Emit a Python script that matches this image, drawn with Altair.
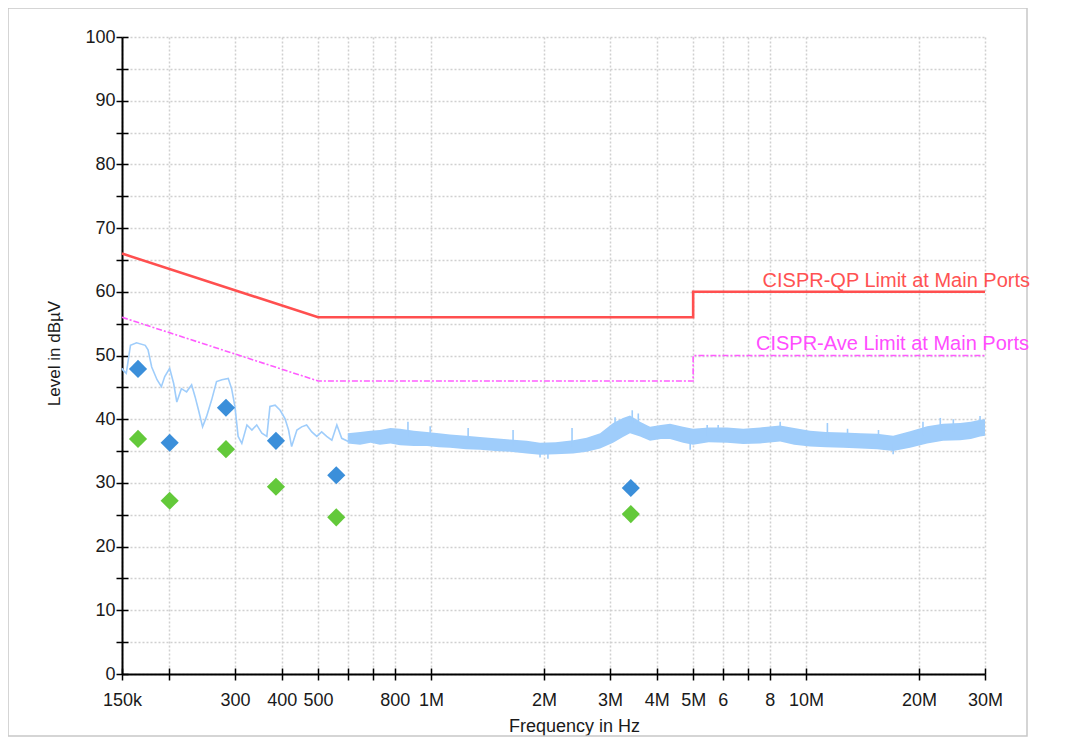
import altair as alt
import pandas as pd

# ---------------- data ----------------
# measured trace, low-frequency part (MHz, dBuV)
trace_freq_mhz = [0.150, 0.151, 0.154, 0.158, 0.164, 0.173, 0.176, 0.180, 0.186, 0.191,
                  0.195, 0.201, 0.206, 0.210, 0.216, 0.223, 0.230, 0.235, 0.240, 0.246,
                  0.252, 0.260, 0.268, 0.277, 0.288, 0.294, 0.300, 0.306, 0.313, 0.323,
                  0.333, 0.343, 0.354, 0.365, 0.372, 0.384, 0.396, 0.408, 0.417, 0.425,
                  0.439, 0.452, 0.466, 0.481, 0.496, 0.511, 0.527, 0.544, 0.561, 0.578,
                  0.602, 0.621]
trace_level = [48.0, 47.7, 47.2, 51.6, 52.0, 51.6, 50.9, 48.2, 46.2, 45.1,
               46.7, 48.0, 45.6, 42.7, 44.8, 44.3, 45.4, 43.5, 41.4, 38.8,
               40.4, 43.0, 45.9, 46.2, 46.4, 44.8, 42.0, 37.3, 36.2, 39.1,
               38.3, 39.1, 37.8, 37.3, 42.0, 42.2, 41.4, 40.1, 38.3, 35.7,
               38.3, 38.8, 39.1, 38.0, 37.3, 38.0, 37.3, 36.7, 39.1, 37.0,
               36.5, 37.5]

# measured trace, dense upper part drawn as its envelope (MHz, low, high)
band_freq_mhz = [0.60, 0.647, 0.690, 0.731, 0.780, 0.827, 0.900, 0.976, 1.05, 1.124,
                 1.24, 1.351, 1.48, 1.625, 1.80, 1.953, 2.15, 2.393, 2.60, 2.824,
                 3.059, 3.25, 3.393, 3.609, 3.838, 4.10, 4.339, 4.70, 4.998, 5.50,
                 6.159, 6.80, 7.541, 8.528, 9.30, 10.25, 11.30, 12.56, 14.0, 15.47,
                 17.07, 18.94, 21.03, 23.19, 25.75, 27.5, 29.12, 30.0]
band_low = [36.2, 36.0, 36.3, 36.0, 36.2, 35.9, 35.8, 35.8, 35.6, 35.5,
            35.3, 35.2, 35.0, 34.9, 34.6, 34.4, 34.5, 34.6, 34.9, 35.4,
            36.3, 37.2, 37.8, 37.3, 36.6, 36.9, 36.9, 36.3, 36.0, 36.4,
            36.3, 36.1, 36.2, 36.5, 36.0, 35.7, 35.6, 35.5, 35.4, 35.3,
            35.0, 35.5, 36.2, 36.6, 36.7, 36.9, 37.3, 37.4]
band_high = [37.8, 38.0, 38.2, 38.3, 38.6, 38.5, 38.2, 38.0, 37.8, 37.6,
             37.4, 37.2, 37.0, 36.8, 36.6, 36.3, 36.4, 36.7, 37.1, 37.8,
             39.4, 40.2, 40.6, 39.6, 38.8, 39.1, 39.3, 38.8, 38.5, 38.7,
             38.7, 38.5, 38.7, 39.0, 38.6, 38.2, 38.0, 37.9, 37.8, 37.7,
             37.4, 38.1, 38.9, 39.3, 39.4, 39.6, 39.9, 40.0]

# isolated spikes of the dense trace (MHz, from, to)
spike_freq_mhz = [0.868, 0.995, 1.256, 1.655, 1.953, 2.05, 2.377, 3.096, 3.44, 3.57,
                  4.91, 5.45, 5.83, 8.53, 11.4, 12.9, 15.6, 17.07, 20.5, 22.8,
                  24.7, 29.1]
spike_from = [37.3, 37.0, 36.5, 35.8, 35.2, 35.2, 35.6, 38.0, 39.3, 38.5,
              37.0, 37.3, 37.4, 37.9, 36.8, 36.7, 36.5, 36.2, 37.5, 38.0,
              38.1, 38.7]
spike_to = [39.6, 38.9, 38.6, 38.3, 34.0, 33.8, 38.6, 40.3, 41.4, 40.9,
            35.2, 39.1, 39.1, 39.6, 39.4, 38.5, 38.3, 34.5, 39.6, 40.2,
            40.0, 40.5]

# limit lines
limit_freq_mhz = [0.15, 0.5, 5.0, 5.0, 30.0]
qp_limit = [66, 56, 56, 60, 60]
ave_limit = [56, 46, 46, 50, 50]

# final measurement points
peak_freq_mhz = [0.1655, 0.201, 0.284, 0.386, 0.559, 3.41]
peak_qp = [47.9, 36.3, 41.8, 36.6, 31.2, 29.2]
peak_ave = [36.9, 27.2, 35.3, 29.4, 24.6, 25.1]

# limit labels
label_text = ["CISPR-QP Limit at Main Ports", "CISPR-Ave Limit at Main Ports"]
label_freq_mhz = [17.4, 17.0]
label_level = [61.7, 51.8]

# axis ticks
x_tick_hz = [150000, 200000, 300000, 400000, 500000, 600000, 700000, 800000,
             1000000, 2000000, 3000000, 4000000, 5000000, 6000000, 7000000,
             8000000, 10000000, 20000000, 30000000]
x_tick_text = ["150k", "", "300", "400", "500", "", "", "800", "1M", "2M", "3M",
               "4M", "5M", "6", "", "8", "10M", "20M", "30M"]
y_ticks = [0, 5, 10, 15, 20, 25, 30, 35, 40, 45, 50, 55, 60, 65, 70, 75, 80, 85, 90, 95, 100]

# ---------------- tables ----------------
trace_df = pd.DataFrame({"f": [v * 1e6 for v in trace_freq_mhz], "level": trace_level})
band_df = pd.DataFrame({"f": [v * 1e6 for v in band_freq_mhz], "lo": band_low, "hi": band_high})
spike_df = pd.DataFrame({"f": [v * 1e6 for v in spike_freq_mhz], "a": spike_from, "b": spike_to})
qp_df = pd.DataFrame({"f": [v * 1e6 for v in limit_freq_mhz], "level": qp_limit,
                      "i": list(range(len(qp_limit)))})
ave_df = pd.DataFrame({"f": [v * 1e6 for v in limit_freq_mhz], "level": ave_limit,
                       "i": list(range(len(ave_limit)))})
peak_df = pd.DataFrame({"f": [v * 1e6 for v in peak_freq_mhz], "qp": peak_qp, "ave": peak_ave})
label_df = pd.DataFrame({"f": [v * 1e6 for v in label_freq_mhz], "level": label_level,
                         "text": label_text})
frame_df = pd.DataFrame({"a": [0]})

FONT = "Liberation Sans"
W, H = 863, 637
TRACE = "#9fcdfb"

xscale = alt.Scale(type="log", domain=[150000, 30000000], nice=False)
yscale = alt.Scale(domain=[0, 100], nice=False, zero=True)

vals_js = "[" + ",".join(str(v) for v in x_tick_hz) + "]"
txt_js = "[" + ",".join("'" + t + "'" for t in x_tick_text) + "]"
x_label_expr = f"{txt_js}[indexof({vals_js}, datum.value)]"

x_main_axis = alt.Axis(
    values=x_tick_hz, labelExpr=x_label_expr, title="Frequency in Hz",
    grid=True, gridColor="#d0d0d0", gridDash=[2, 2], gridWidth=1.5,
    domainColor="#000000", domainWidth=2, tickColor="#000000", tickWidth=1.5, tickSize=6,
    labelFont=FONT, labelFontSize=18, labelColor="#1a1a1a", labelPadding=11,
    labelFlush=False, labelOverlap=False, labelAngle=0,
    titleFont=FONT, titleFontSize=18, titleFontWeight="normal", titleColor="#1a1a1a",
    titleX=452, titleY=57, titleBaseline="alphabetic", titleAnchor="middle",
)
y_main_axis = alt.Axis(
    values=y_ticks, labelExpr="datum.value % 10 == 0 ? datum.value : ''",
    title="Level in dBµV",
    grid=True, gridColor="#d0d0d0", gridDash=[2, 2], gridWidth=1.5,
    domainColor="#000000", domainWidth=2, tickColor="#000000", tickWidth=1.5, tickSize=6,
    labelFont=FONT, labelFontSize=18, labelColor="#1a1a1a", labelPadding=1,
    titleFont=FONT, titleFontSize=17, titleFontWeight="normal", titleColor="#1a1a1a",
    titleX=-59, titleY=316, titleAngle=270, titleBaseline="bottom", titleAlign="center",
)
x_inner_axis = alt.Axis(orient="bottom", values=x_tick_hz, offset=-6, tickSize=6,
                        tickColor="#000000", tickWidth=1.5, domain=False, labels=False,
                        grid=False, title="")
y_inner_axis = alt.Axis(orient="left", values=y_ticks, offset=-6, tickSize=6,
                        tickColor="#000000", tickWidth=1.5, domain=False, labels=False,
                        grid=False, title="")

frame = alt.Chart(frame_df).mark_rect(fillOpacity=0, stroke="#c8c8c8", strokeWidth=1.5).encode(
    x=alt.value(-114), x2=alt.value(905), y=alt.value(-29), y2=alt.value(699)
)

band = alt.Chart(band_df).mark_area(color=TRACE, opacity=1).encode(
    x=alt.X("f:Q", scale=xscale, axis=x_main_axis),
    y=alt.Y("lo:Q", scale=yscale, axis=y_main_axis),
    y2="hi:Q",
)

spikes = alt.Chart(spike_df).mark_rule(color=TRACE, strokeWidth=1.6).encode(
    x=alt.X("f:Q", scale=xscale, axis=None),
    y=alt.Y("a:Q", scale=yscale, axis=None),
    y2="b:Q",
)

trace = alt.Chart(trace_df).mark_line(color=TRACE, strokeWidth=1.6).encode(
    x=alt.X("f:Q", scale=xscale, axis=None),
    y=alt.Y("level:Q", scale=yscale, axis=None),
)

qp_line = alt.Chart(qp_df).mark_line(color="#ff4f4f", strokeWidth=2.6).encode(
    x=alt.X("f:Q", scale=xscale, axis=x_inner_axis),
    y=alt.Y("level:Q", scale=yscale, axis=y_inner_axis),
    order=alt.Order("i:Q"),
)

ave_line = alt.Chart(ave_df).mark_line(color="#ff5cff", strokeWidth=1.6,
                                       strokeDash=[6, 2, 2, 2]).encode(
    x=alt.X("f:Q", scale=xscale, axis=None),
    y=alt.Y("level:Q", scale=yscale, axis=None),
    order=alt.Order("i:Q"),
)

qp_pts = alt.Chart(peak_df).mark_point(shape="diamond", filled=True, size=330, opacity=1,
                                       color="#3b8fda").encode(
    x=alt.X("f:Q", scale=xscale, axis=None),
    y=alt.Y("qp:Q", scale=yscale, axis=None),
)
ave_pts = alt.Chart(peak_df).mark_point(shape="diamond", filled=True, size=330, opacity=1,
                                        color="#63c93a").encode(
    x=alt.X("f:Q", scale=xscale, axis=None),
    y=alt.Y("ave:Q", scale=yscale, axis=None),
)

labels = alt.Chart(label_df).mark_text(font=FONT, fontSize=20, align="center",
                                       baseline="middle").encode(
    x=alt.X("f:Q", scale=xscale, axis=None),
    y=alt.Y("level:Q", scale=yscale, axis=None),
    text="text:N",
    color=alt.Color("text:N", scale=alt.Scale(domain=label_text, range=["#ff5252", "#ff4dff"]),
                    legend=None),
)

chart = alt.layer(frame, band, spikes, trace, qp_line, ave_line, qp_pts, ave_pts,
                  labels).resolve_axis(
    x="independent", y="independent"
).properties(
    width=W, height=H,
    autosize=alt.AutoSizeParams(type="none"),
    padding={"left": 114, "top": 29, "right": 80, "bottom": 64},
    background="#ffffff",
).configure_view(strokeWidth=0)

chart.save("out.html", embed_options={"renderer": "svg", "actions": False})
